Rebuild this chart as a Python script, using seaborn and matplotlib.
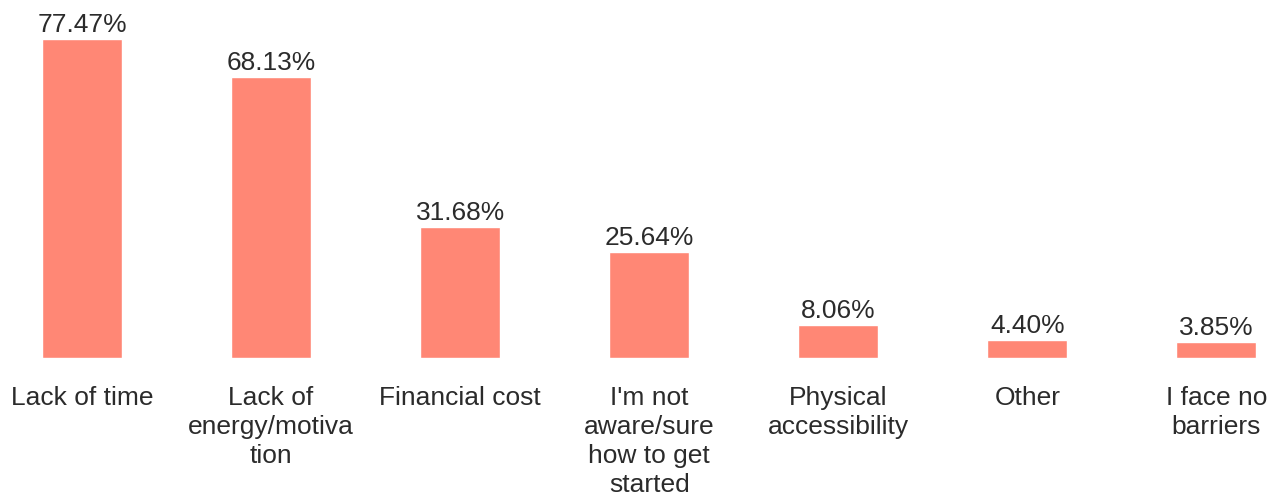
import matplotlib
matplotlib.use("Agg")
import matplotlib.pyplot as plt
import seaborn as sns
import pandas as pd

categories = ["Lack of time", "Lack of energy/motivation", "Financial cost",
              "I'm not aware/sure how to get started", "Physical accessibility",
              "Other", "I face no barriers"]
values = [77.47, 68.13, 31.68, 25.64, 8.06, 4.40, 3.85]
tick_labels = ["Lack of time", "Lack of\nenergy/motiva\ntion", "Financial cost",
               "I'm not\naware/sure\nhow to get\nstarted", "Physical\naccessibility",
               "Other", "I face no\nbarriers"]

sns.set_style("white")
plt.rcParams['font.family'] = ['Liberation Sans', 'DejaVu Sans']

df = pd.DataFrame({"category": categories, "value": values})

fig = plt.figure(figsize=(12.78, 4.97), dpi=100)
ax = fig.add_axes([0, (497 - 358) / 497, 1, 358 / 497])
sns.barplot(data=df, x="category", y="value", color="#FF8775", saturation=1,
            width=0.423, ax=ax)

ax.set_xlim(-0.434, 6.326)
ax.set_ylim(0, 86.9)
for c in ax.containers:
    ax.bar_label(c, labels=[f"{v:.2f}%" for v in values], padding=1.5,
                 fontsize=19, color="#2b2b2b")

ax.set_xticks(range(len(categories)))
ax.set_xticklabels(tick_labels, fontsize=19, color="#2b2b2b", linespacing=1.27)
ax.tick_params(axis="x", length=0, pad=20)
ax.set_yticks([])
ax.set_xlabel("")
ax.set_ylabel("")
for s in ax.spines.values():
    s.set_visible(False)

fig.savefig("out.png", dpi=100)
